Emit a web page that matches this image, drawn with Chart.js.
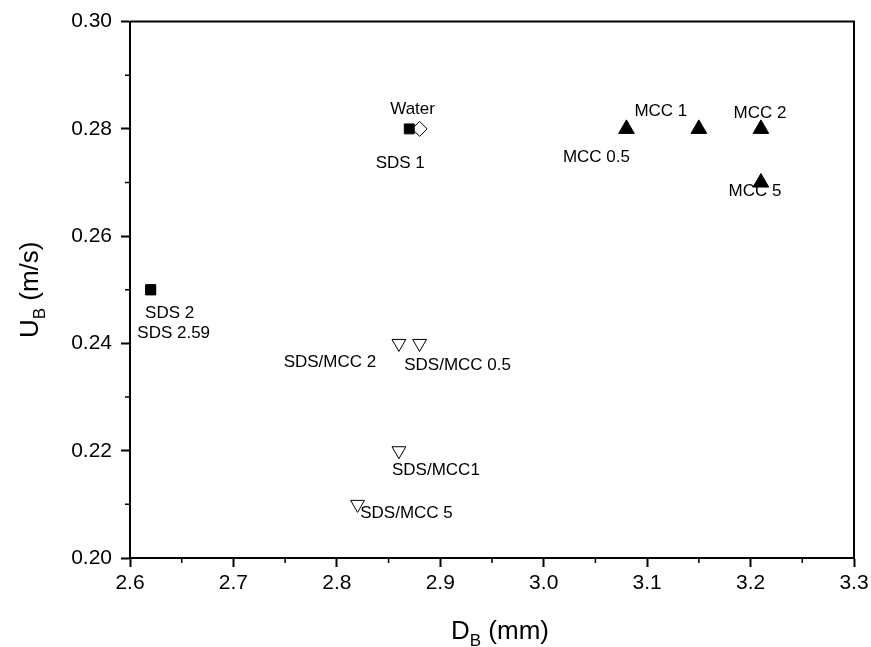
<!DOCTYPE html>
<html>
<head>
<meta charset="utf-8">
<script src="https://cdn.jsdelivr.net/npm/chart.js@4.4.1/dist/chart.umd.min.js"></script>
<style>
  html, body { margin: 0; padding: 0; background: #fff; overflow: hidden; }
  #wrap { width: 900px; height: 647px; position: relative; }
</style>
</head>
<body>
<div id="wrap"><canvas id="chart"></canvas></div>
<script>
// D_B (mm) and U_B (m/s)
const sdsNames = ["SDS 1", "SDS 2", "SDS 2.59"];
const sdsD = [2.87, 2.62, 2.62];
const sdsU = [0.28, 0.25, 0.25];

const waterNames = ["Water"];
const waterD = [2.88];
const waterU = [0.28];

const mccNames = ["MCC 0.5", "MCC 1", "MCC 2", "MCC 5"];
const mccD = [3.08, 3.15, 3.21, 3.21];
const mccU = [0.28, 0.28, 0.28, 0.27];

const mixNames = ["SDS/MCC 0.5", "SDS/MCC1", "SDS/MCC 2", "SDS/MCC 5"];
const mixD = [2.88, 2.86, 2.86, 2.82];
const mixU = [0.24, 0.22, 0.24, 0.21];

const xTicks = [2.6, 2.7, 2.8, 2.9, 3.0, 3.1, 3.2, 3.3];
const yTicks = [0.20, 0.22, 0.24, 0.26, 0.28, 0.30];

// label placement (pixel offset of text centre from its point)
const labelOffsets = {
  "SDS 1": [-9, 34], "SDS 2": [19, 24], "SDS 2.59": [23, 44],
  "Water": [-7, -20],
  "MCC 0.5": [-30, 28], "MCC 1": [-38, -18], "MCC 2": [-1, -16], "MCC 5": [-6, 9],
  "SDS/MCC 0.5": [38, 22], "SDS/MCC1": [37, 20], "SDS/MCC 2": [-69, 19], "SDS/MCC 5": [49, 9]
};

const FONT = "'Liberation Sans', Arial, sans-serif";

function pts(xs, ys) {
  return xs.map((x, i) => ({ x: x, y: ys[i] }));
}

const pointLabels = {
  id: 'pointLabels',
  afterDatasetsDraw(chart) {
    const ctx = chart.ctx;
    ctx.save();
    ctx.font = '17px ' + FONT;
    ctx.fillStyle = '#000';
    ctx.textAlign = 'center';
    ctx.textBaseline = 'middle';
    chart.data.datasets.forEach((ds, di) => {
      const meta = chart.getDatasetMeta(di);
      ds.names.forEach((name, i) => {
        const el = meta.data[i];
        const off = labelOffsets[name] || [0, 0];
        ctx.fillText(name, el.x + off[0], el.y + off[1]);
      });
    });
    ctx.restore();
  }
};

const frame = {
  id: 'frame',
  afterDraw(chart) {
    const ctx = chart.ctx;
    const a = chart.chartArea;
    const xs = chart.scales.x, ys = chart.scales.y;
    ctx.save();
    ctx.strokeStyle = '#000';
    ctx.lineWidth = 2;
    ctx.beginPath();
    ctx.moveTo(a.left, a.top);
    ctx.lineTo(a.right, a.top);
    ctx.lineTo(a.right, a.bottom);
    ctx.stroke();
    // minor ticks
    ctx.lineWidth = 1.5;
    ctx.beginPath();
    for (let i = 0; i < xTicks.length - 1; i++) {
      const px = xs.getPixelForValue((xTicks[i] + xTicks[i + 1]) / 2);
      ctx.moveTo(px, a.bottom);
      ctx.lineTo(px, a.bottom + 5);
    }
    for (let i = 0; i < yTicks.length - 1; i++) {
      const py = ys.getPixelForValue((yTicks[i] + yTicks[i + 1]) / 2);
      ctx.moveTo(a.left, py);
      ctx.lineTo(a.left - 5, py);
    }
    ctx.stroke();

    // axis titles with subscripts
    ctx.fillStyle = '#000';
    ctx.textBaseline = 'alphabetic';
    ctx.textAlign = 'left';
    const big = '26px ' + FONT, small = '17px ' + FONT;
    function drawSub(main, sub, rest) {
      ctx.font = big; const w1 = ctx.measureText(main).width;
      ctx.font = small; const w2 = ctx.measureText(sub).width;
      ctx.font = big; const w3 = ctx.measureText(rest).width;
      let x = -(w1 + w2 + w3) / 2;
      ctx.font = big; ctx.fillText(main, x, 0); x += w1;
      ctx.font = small; ctx.fillText(sub, x, 7); x += w2;
      ctx.font = big; ctx.fillText(rest, x, 0);
    }
    ctx.save();
    ctx.translate((a.left + a.right) / 2 + 8, 639);
    drawSub('D', 'B', ' (mm)');
    ctx.restore();
    ctx.save();
    ctx.translate(38, (a.top + a.bottom) / 2);
    ctx.rotate(-Math.PI / 2);
    drawSub('U', 'B', ' (m/s)');
    ctx.restore();
    ctx.restore();
  }
};

new Chart(document.getElementById('chart'), {
  type: 'scatter',
  data: {
    datasets: [
      {
        label: 'SDS', names: sdsNames, data: pts(sdsD, sdsU),
        pointStyle: 'rect', pointRadius: 7, pointHoverRadius: 7,
        backgroundColor: '#000', borderColor: '#000', borderWidth: 1
      },
      {
        label: 'Water', names: waterNames, data: pts(waterD, waterU),
        pointStyle: 'rectRot', pointRadius: 7.5, pointHoverRadius: 7.5,
        backgroundColor: '#fff', borderColor: '#000', borderWidth: 1
      },
      {
        label: 'MCC', names: mccNames, data: pts(mccD, mccU),
        pointStyle: 'triangle', pointRadius: 9, pointHoverRadius: 9,
        backgroundColor: '#000', borderColor: '#000', borderWidth: 1
      },
      {
        label: 'SDS/MCC', names: mixNames, data: pts(mixD, mixU),
        pointStyle: 'triangle', rotation: 180, pointRotation: 180,
        pointRadius: 8, pointHoverRadius: 8,
        backgroundColor: '#fff', borderColor: '#000', borderWidth: 1
      }
    ]
  },
  options: {
    responsive: true,
    maintainAspectRatio: false,
    animation: false,
    layout: { padding: { left: 0, top: 21, right: 46, bottom: 0 } },
    plugins: { legend: { display: false }, tooltip: { enabled: false } },
    scales: {
      x: {
        type: 'linear', min: 2.6, max: 3.3,
        afterBuildTicks: s => { s.ticks = xTicks.map(v => ({ value: v })); },
        afterFit: s => { s.height = 89; },
        ticks: {
          color: '#000', padding: 4, maxRotation: 0,
          font: { family: FONT, size: 21 },
          callback: v => Number(v).toFixed(1)
        },
        grid: { drawOnChartArea: false, drawTicks: true, tickLength: 9, tickColor: '#000', tickWidth: 2 },
        border: { display: true, color: '#000', width: 2 }
      },
      y: {
        type: 'linear', min: 0.2, max: 0.3,
        afterBuildTicks: s => { s.ticks = yTicks.map(v => ({ value: v })); },
        afterFit: s => { s.width = 130; },
        ticks: {
          color: '#000', padding: 9,
          font: { family: FONT, size: 21 },
          callback: v => Number(v).toFixed(2)
        },
        grid: { drawOnChartArea: false, drawTicks: true, tickLength: 9, tickColor: '#000', tickWidth: 2 },
        border: { display: true, color: '#000', width: 2 }
      }
    }
  },
  plugins: [pointLabels, frame]
});
</script>
</body>
</html>
